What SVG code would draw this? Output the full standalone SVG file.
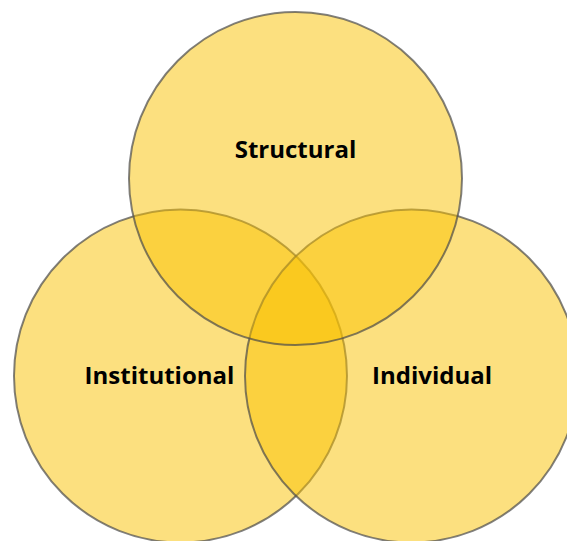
<svg xmlns="http://www.w3.org/2000/svg" width="567" height="541" viewBox="0 0 567 541">
  <style>
    .c { fill: #F9C200; fill-opacity: 0.5; stroke: #4a4a4a; stroke-opacity: 0.7; stroke-width: 2; }
    .t { font-family: "Open Sans", "Noto Sans", "Liberation Sans", sans-serif; font-weight: 700; font-size: 24px; fill: #000; text-anchor: middle; }
  </style>
  <rect width="567" height="541" fill="#fff"/>
  <g id="institutional">
    <circle class="c" cx="180.5" cy="376" r="166.5"/>
  </g>
  <g id="individual">
    <circle class="c" cx="411.5" cy="376" r="166.5"/>
  </g>
  <g id="structural">
    <circle class="c" cx="295.5" cy="178.5" r="166.5"/>
  </g>
  <g id="labels">
    <text class="t" x="295.5" y="157.5">Structural</text>
    <text class="t" x="159.5" y="384">Institutional</text>
    <text class="t" x="432" y="384">Individual</text>
  </g>
  <g id="connectors"/>
</svg>
